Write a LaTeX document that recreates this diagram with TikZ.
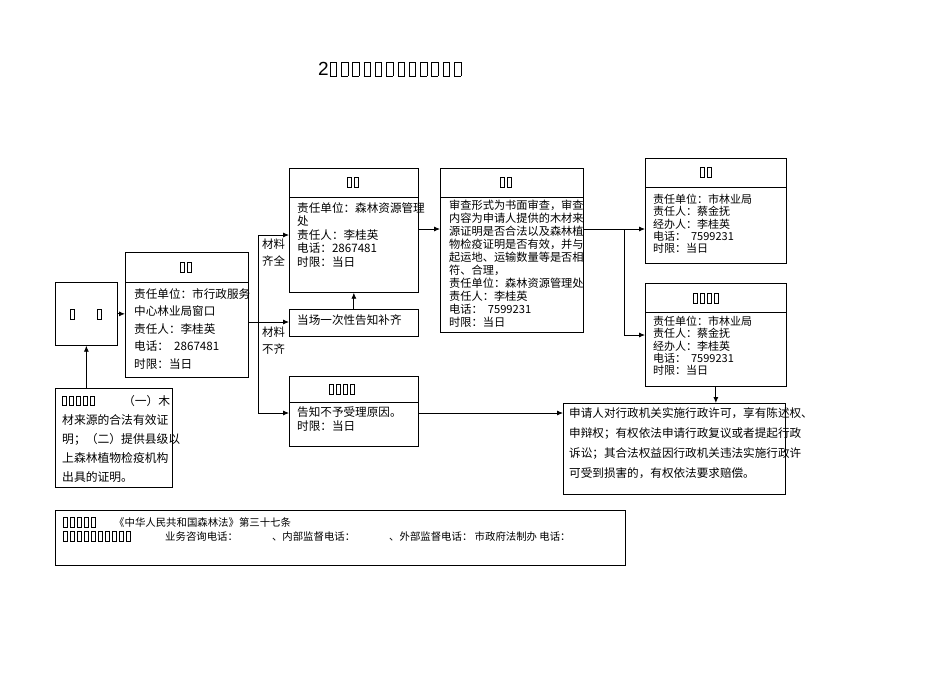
\documentclass[tikz,border=0pt]{standalone}
\usepackage{fontspec}
\setmainfont{Liberation Serif}
\newfontfamily\cjk{Noto Sans CJK SC}
\usetikzlibrary{arrows.meta}
\newcommand\tf{{\setlength\fboxsep{0pt}\setlength\fboxrule{0.4pt}\fbox{\rule{0pt}{9pt}\hspace{3.6pt}}}\hspace{2.6pt}}
\newcommand\tfb{{\setlength\fboxsep{0pt}\setlength\fboxrule{0.5pt}\fbox{\rule{0pt}{13pt}\hspace{6pt}}}\hspace{4.3pt}}
\tikzset{
 box/.style={draw,line width=0.7pt,anchor=north west,inner sep=0pt},
 txt/.style={anchor=north west,align=left,inner sep=0pt,font=\cjk\fontsize{11.6}{13.5}\selectfont},
 hd/.style={anchor=center,inner sep=0pt},
 arr/.style={line width=0.8pt,-{Latex[length=6pt,width=5pt]}},
 ln/.style={line width=0.8pt}
}
\begin{document}
\begin{tikzpicture}[x=1pt,y=-1pt]
\useasboundingbox (0,0) rectangle (950,672);
\node[anchor=west,inner sep=0pt,font=\fontspec{Liberation Sans}\fontsize{19}{19}\selectfont] (title) at (318,69) {2\hspace{1pt}\tfb\tfb\tfb\tfb\tfb\tfb\tfb\tfb\tfb\tfb\tfb\tfb};
% apply box
\node[box,minimum width=62pt,minimum height=63pt] (apply) at (55,282) {};
\node[hd] at (86,314) {\tf\hspace{20pt}\tf};
% evidence box
\node[box,minimum width=117pt,minimum height=99pt] (ev) at (55,388) {};
\node[txt,text width=108pt,font=\cjk\fontsize{11.8}{19}\selectfont] at (62,395) {\tf\tf\tf\tf\tf\hfill（一）木\\材来源的合法有效证\\明；（二）提供县级以\\上森林植物检疫机构\\出具的证明。};
% accept box
\node[box,minimum width=123pt,minimum height=125pt] (acc) at (125,252) {};
\draw[line width=0.7pt] (125,282) -- (248,282);
\node[hd] at (186,267) {\tf\tf};
\node[txt,font=\cjk\fontsize{11.6}{17.5}\selectfont] at (134,288) {责任单位：市行政服务\\中心林业局窗口\\责任人：李桂英\\电话：\ \ 2867481\\时限：当日};
% complete box
\node[box,minimum width=129pt,minimum height=124pt] (comp) at (289,168) {};
\draw[line width=0.7pt] (289,197) -- (418,197);
\node[hd] at (353,182) {\tf\tf};
\node[txt,text width=124pt] at (297,202) {责任单位：森林资源管理\\处\\责任人：李桂英\\电话：2867481\\时限：当日};
% notify box
\node[box,minimum width=129pt,minimum height=27pt] (notify) at (289,309) {};
\node[txt] at (297,315) {当场一次性告知补齐};
% reject box
\node[box,minimum width=129pt,minimum height=70pt] (rej) at (289,376) {};
\draw[line width=0.7pt] (289,402) -- (418,402);
\node[hd] at (342,389) {\tf\tf\tf\tf};
\node[txt] at (297,407) {告知不予受理原因。\\时限：当日};
% review box
\node[box,minimum width=143pt,minimum height=164pt] (rev) at (440,168) {};
\draw[line width=0.7pt] (440,197) -- (583,197);
\node[hd] at (506,182) {\tf\tf};
\node[txt,font=\cjk\fontsize{11.2}{13}\selectfont] at (449,200) {审查形式为书面审查，审查\\内容为申请人提供的木材来\\源证明是否合法以及森林植\\物检疫证明是否有效，并与\\起运地、运输数量等是否相\\符、合理，\\责任单位：森林资源管理处\\责任人：李桂英\\电话：\ \ 7599231\\时限：当日};
% decision box
\node[box,minimum width=141pt,minimum height=105pt] (dec) at (645,158) {};
\draw[line width=0.7pt] (645,187) -- (786,187);
\node[hd] at (706,172) {\tf\tf};
\node[txt,font=\cjk\fontsize{11}{12.3}\selectfont] at (653,194) {责任单位：市林业局\\责任人：蔡金抚\\经办人：李桂英\\电话：\ \ 7599231\\时限：当日};
% second box
\node[box,minimum width=141pt,minimum height=103pt] (dec2) at (645,283) {};
\draw[line width=0.7pt] (645,312) -- (786,312);
\node[hd] at (706,298) {\tf\tf\tf\tf};
\node[txt,font=\cjk\fontsize{11}{12.3}\selectfont] at (653,316) {责任单位：市林业局\\责任人：蔡金抚\\经办人：李桂英\\电话：\ \ 7599231\\时限：当日};
% rights box
\node[box,minimum width=222pt,minimum height=91pt] (rights) at (563,403) {};
\node[txt,text width=212pt,font=\cjk\fontsize{11.6}{20}\selectfont] at (569,407) {申请人对行政机关实施行政许可，享有陈述权、\\申辩权；有权依法申请行政复议或者提起行政\\诉讼；其合法权益因行政机关违法实施行政许\\可受到损害的，有权依法要求赔偿。};
% bottom box
\node[box,minimum width=570pt,minimum height=55pt] (bot) at (55,510) {};
\node[txt,font=\cjk\fontsize{10.4}{14}\selectfont] at (63,517) {\tf\tf\tf\tf\tf\hspace{16pt}《中华人民共和国森林法》第三十七条\\\tf\tf\tf\tf\tf\tf\tf\tf\tf\tf\hspace{32pt}业务咨询电话：\hspace{34pt}、内部监督电话：\hspace{34pt}、外部监督电话：\ 市政府法制办\ 电话：};
% labels
\node[txt,font=\cjk\fontsize{11.4}{17}\selectfont] (l1) at (262,239) {材料\\齐全};
\node[txt,font=\cjk\fontsize{11.4}{17}\selectfont] (l2) at (262,327) {材料\\不齐};
% connectors
\draw[arr] (ev.north -| apply.south) -- (apply.south);
\draw[arr] (apply.east) -- (acc.west |- apply.east);
\coordinate (t1) at (258,235);
\coordinate (t2) at (258,413);
\draw[ln] (acc.east |- 0,322) -- (258,322);
\draw[ln] (t1) -- (t2);
\draw[arr] (t1) -- (comp.west |- t1);
\draw[arr] (258,322) -- (notify.west |- 0,322);
\draw[arr] (t2) -- (rej.west |- t2);
\draw[arr] (notify.north) -- (comp.south);
\draw[arr] (comp.east |- 0,229) -- (rev.west |- 0,229);
\coordinate (br) at (624,229);
\draw[arr] (rev.east |- br) -- (dec.west |- br);
\draw[ln] (br) -- (624,335);
\draw[arr] (624,335) -- (dec2.west |- 0,335);
\draw[arr] (rej.east |- t2) -- (rights.west |- t2);
\draw[arr] (dec2.south) -- (rights.north -| dec2.south);
\end{tikzpicture}
\end{document}
